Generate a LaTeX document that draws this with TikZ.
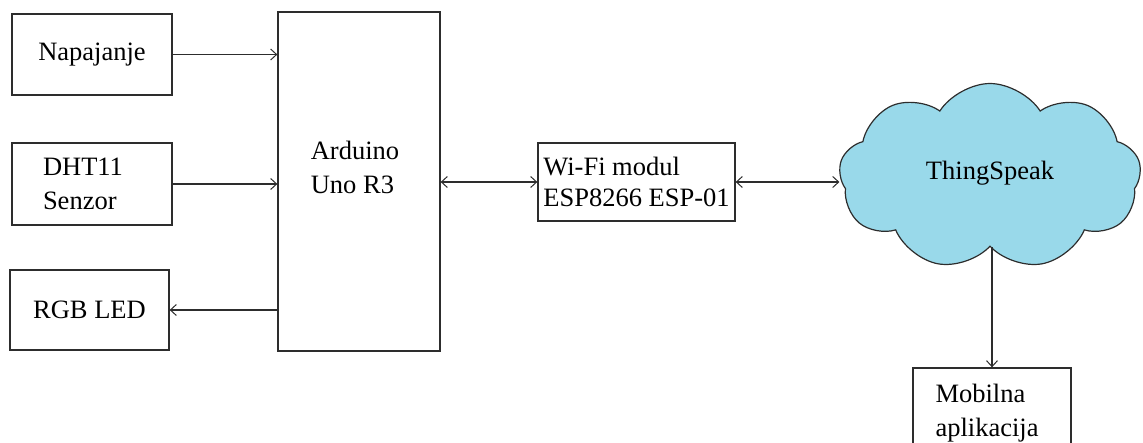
\documentclass[tikz,border=0pt]{standalone}
\usepackage{fontspec}
\setmainfont{Liberation Serif}
\usepackage{tikz}
\usetikzlibrary{arrows.meta,shapes.symbols}
\definecolor{cloudblue}{RGB}{153,217,234}
\definecolor{edge}{RGB}{45,45,45}
\tikzstyle{Block}=[rectangle, draw=edge, line width=1.3pt, inner sep=3pt]
\tikzstyle{Link}=[draw=edge, line width=1.2pt, arrows={-Straight Barb[length=6pt,width=11pt,line width=1pt]}]
\tikzstyle{Both}=[Link, arrows={Straight Barb[length=6pt,width=11pt,line width=1pt]-Straight Barb[length=6pt,width=11pt,line width=1pt]}]

\begin{document}
\begin{tikzpicture}[x=1pt, y=-1pt, font=\fontsize{26.5}{34}\selectfont]
    \useasboundingbox (0,0) rectangle (1143,443);
    \path
    (92,54.5) node[Block, minimum width=160, minimum height=81] (nap) {Napajanje}
    (92,184) node[Block, minimum height=82, text width=98, inner xsep=31, align=left] (dht) {DHT11\\Senzor}
    (89.5,310) node[Block, minimum width=159, minimum height=80] (rgb) {RGB LED}
    (359,181.5) node[Block, minimum width=162, minimum height=339] (arduino) {}
    (355,167) node[align=left] (ardtext) {Arduino\\Uno R3}
    (636.5,182) node[Block, minimum width=197, minimum height=78, align=left, inner sep=1pt,
        font=\fontsize{26.5}{31}\selectfont] (wifi) {Wi-Fi modul\\ESP8266 ESP-01}
    (990,176.5) node[cloud, cloud puffs=9, cloud puff arc=115, cloud ignores aspect, draw=edge, line width=1.2pt, fill=cloudblue, minimum width=302, minimum height=186] (cloud) {}
    (990,173) node (ts) {ThingSpeak}
    (992,414) node[Block, minimum width=158, minimum height=92] (mob) {}
    (987,413) node[align=left] (mobtext) {Mobilna\\aplikacija};

    \draw[Link] (nap.east) -- (nap.east -| arduino.west);
    \draw[Link] (dht.east) -- (dht.east -| arduino.west);
    \draw[Link] (rgb.east -| arduino.west) -- (rgb.east);
    \draw[Both] (arduino.east |- wifi.west) -- (wifi.west);
    \draw[Both] (wifi.east) -- (wifi.east -| cloud.west);
    \draw[Link] (cloud.south -| mob.north) -- (mob.north);
\end{tikzpicture}
\end{document}
